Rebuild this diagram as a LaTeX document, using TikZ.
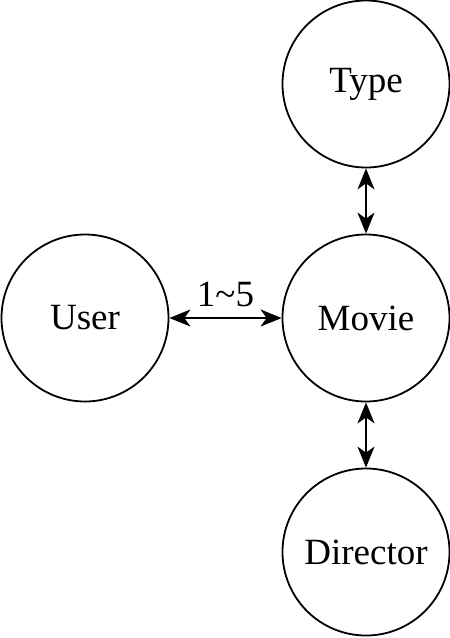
\documentclass[tikz,border=0pt]{standalone}
\usepackage{fontspec}
\setmainfont{Liberation Serif}
\usetikzlibrary{arrows.meta}
\begin{document}
\begin{tikzpicture}[x=1pt,y=-1pt,
  ent/.style={draw,circle,line width=1.8pt,minimum size=167pt,inner sep=0pt,font=\fontsize{37}{40}\selectfont},
  link/.style={line width=1.5pt,{Stealth[length=21pt,width=17pt,inset=6pt]}-{Stealth[length=21pt,width=17pt,inset=6pt]}}]
\path[use as bounding box] (0,0) rectangle (450,638);
\node[ent] (type) at (366,84) {Type};
\node[ent] (movie) at (366,318) {Movie};
\node[ent] (user) at (85,318) {User};
\node[ent] (director) at (366,552) {Director};
\draw[link] (user) -- node[above=7pt,font=\fontsize{37}{40}\selectfont] {1\textasciitilde5} (movie);
\draw[link] (type) -- (movie);
\draw[link] (movie) -- (director);
\end{tikzpicture}
\end{document}
